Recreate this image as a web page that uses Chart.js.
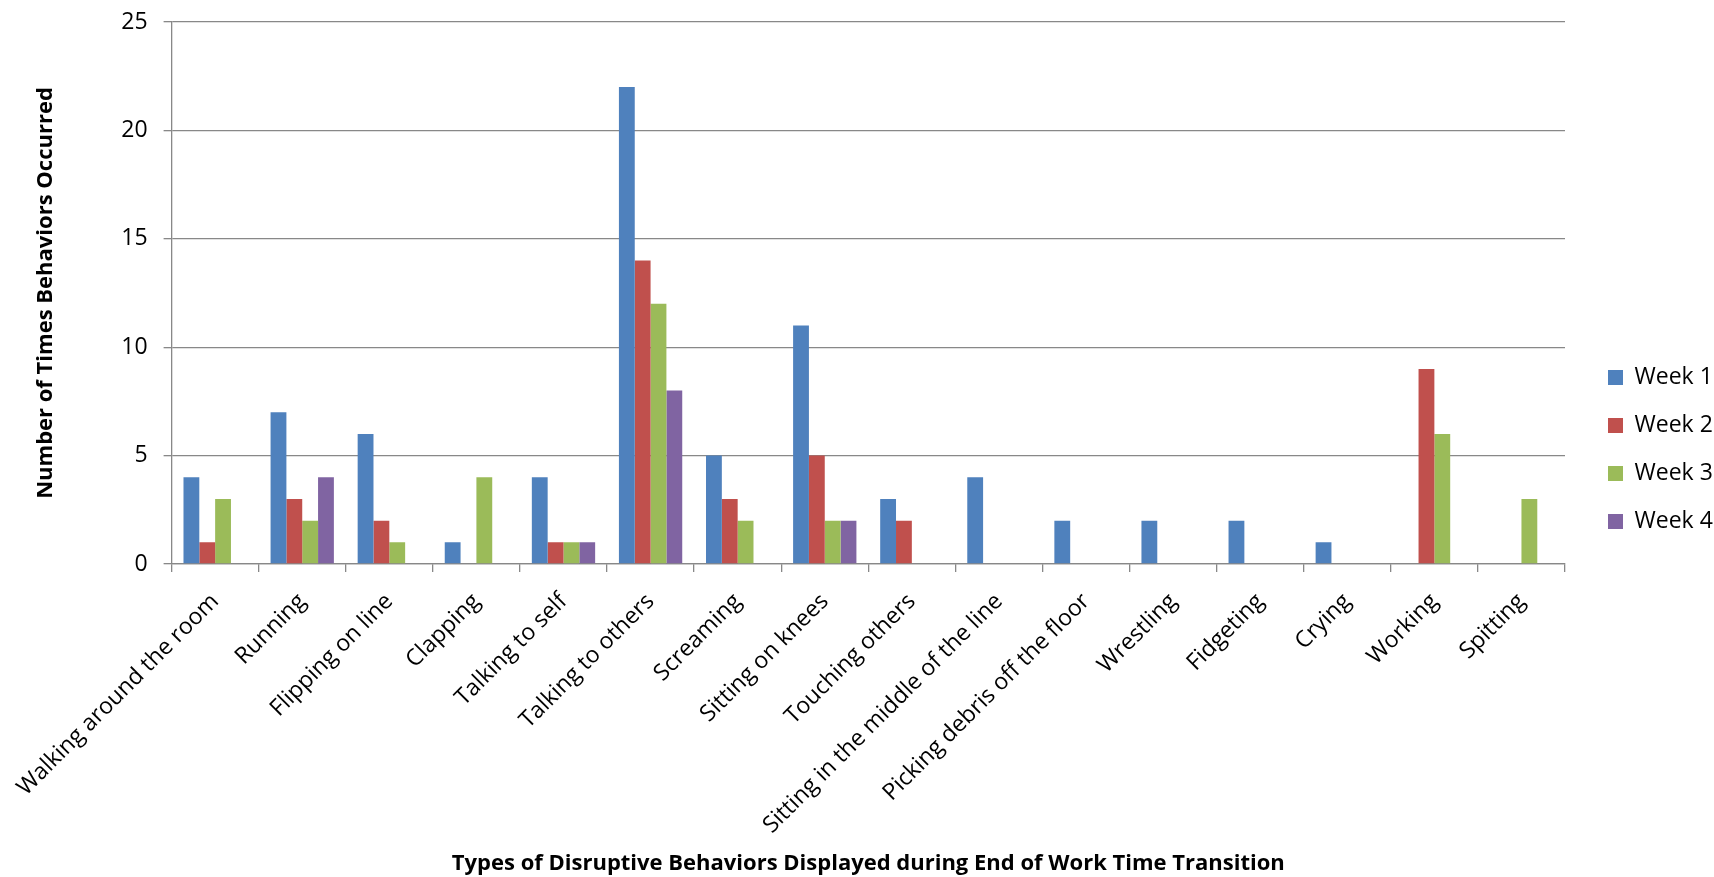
<!DOCTYPE html>
<html>
<head>
<meta charset="utf-8">
<script src="https://cdn.jsdelivr.net/npm/chart.js@4/dist/chart.umd.min.js"></script>
<style>
    html, body { margin: 0; padding: 0; background: #fff; }
    #wrap { width: 1714px; height: 877px; }
</style>
</head>
<body>
<div id="wrap"><canvas id="behaviorChart" width="1714" height="877"></canvas></div>
<script>
const behaviors = [
    "Walking around the room", "Running", "Flipping on line", "Clapping",
    "Talking to self", "Talking to others", "Screaming", "Sitting on knees",
    "Touching others", "Sitting in the middle of the line",
    "Picking debris off the floor", "Wrestling", "Fidgeting", "Crying",
    "Working", "Spitting"
];
const weekNames = ["Week 1", "Week 2", "Week 3", "Week 4"];
const week1 = [4, 7, 6, 1, 4, 22, 5, 11, 3, 4, 2, 2, 2, 1, 0, 0];
const week2 = [1, 3, 2, 0, 1, 14, 3, 5, 2, 0, 0, 0, 0, 0, 9, 0];
const week3 = [3, 2, 1, 4, 1, 12, 2, 2, 0, 0, 0, 0, 0, 0, 6, 3];
const week4 = [0, 4, 0, 0, 1, 8, 0, 2, 0, 0, 0, 0, 0, 0, 0, 0];
const yTicks = [0, 5, 10, 15, 20, 25];

const weekColors = ["#4f81bd", "#c0504d", "#9bbb59", "#8064a2"];
const gridColor = "#888888";
const font = "'Open Sans', 'DejaVu Sans', sans-serif";

// legend sits a bit further right of the plot than Chart.js would put it
const legendGap = {
    id: 'legendGap',
    afterInit(chart) {
        const fit = chart.legend.fit;
        chart.legend.fit = function () {
            fit.call(this);
            this.width = 149;
        };
    },
    afterLayout(chart) {
        chart.legend.left += 18;
        chart.legend.right += 18;
    }
};

const ctx = document.getElementById('behaviorChart').getContext('2d');

new Chart(ctx, {
    type: 'bar',
    data: {
        labels: behaviors,
        datasets: [week1, week2, week3, week4].map((values, i) => ({
            label: weekNames[i],
            data: values,
            backgroundColor: weekColors[i],
            borderWidth: 0,
            categoryPercentage: 0.727,
            barPercentage: 1.0
        }))
    },
    options: {
        responsive: false,
        animation: false,
        layout: { padding: { top: 22, left: 0, right: 0, bottom: 0 } },
        plugins: {
            tooltip: { enabled: false },
            legend: {
                position: 'right',
                labels: {
                    boxWidth: 15,
                    boxHeight: 15,
                    padding: 25,
                    color: '#000',
                    font: { family: font, size: 23 }
                }
            }
        },
        scales: {
            x: {
                grid: {
                    offset: true,
                    drawOnChartArea: false,
                    drawTicks: true,
                    tickLength: 8,
                    color: gridColor,
                    lineWidth: 1.3
                },
                border: { display: true, color: gridColor, width: 1.3 },
                ticks: {
                    autoSkip: false,
                    minRotation: 45,
                    maxRotation: 45,
                    padding: 16,
                    color: '#000',
                    font: { family: font, size: 23 }
                },
                title: {
                    display: true,
                    text: 'Types of Disruptive Behaviors Displayed during End of Work Time Transition',
                    color: '#000',
                    padding: { top: 0, bottom: 0 },
                    font: { family: font, size: 22, weight: 'bold' }
                },
                afterFit(scale) { scale.height = 313; }
            },
            y: {
                min: 0,
                max: 25,
                afterBuildTicks(scale) {
                    scale.ticks = yTicks.map(v => ({ value: v }));
                },
                grid: {
                    color: gridColor,
                    lineWidth: 1.3,
                    tickLength: 8
                },
                border: { display: true, color: gridColor, width: 1.3 },
                ticks: {
                    padding: 16,
                    color: '#000',
                    font: { family: font, size: 23 }
                },
                title: {
                    display: true,
                    text: 'Number of Times Behaviors Occurred',
                    color: '#000',
                    padding: { top: 31, bottom: 0 },
                    font: { family: font, size: 22, weight: 'bold' }
                },
                afterFit(scale) {
                    scale.width = 170;
                    // keep the top of the plot where the layout padding puts it
                    scale.paddingTop = 0;
                    scale.paddingBottom = 0;
                }
            }
        }
    },
    plugins: [legendGap]
});
</script>
</body>
</html>
